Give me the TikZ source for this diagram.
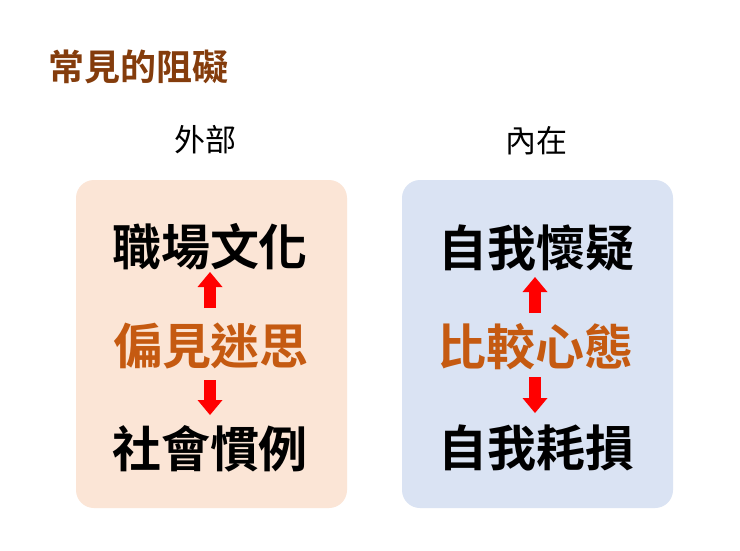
\documentclass[tikz,border=0pt]{standalone}
\usepackage{fontspec}
\setmainfont{Noto Sans CJK TC}[BoldFont={Noto Sans CJK TC Bold}]
\usetikzlibrary{arrows.meta}
\definecolor{titlebrown}{HTML}{843C0C}
\definecolor{midorange}{HTML}{C55A11}
\definecolor{peach}{HTML}{FBE5D6}
\definecolor{paleblue}{HTML}{DAE3F3}
\tikzset{
  panel/.style={rounded corners=18pt, inner sep=0pt, minimum width=271pt, minimum height=328pt},
  maintext/.style={font=\fontsize{49}{49}\selectfont\bfseries, text=black, inner sep=0pt},
  midtext/.style={maintext, text=midorange},
  headtext/.style={font=\fontsize{31}{31}\selectfont, text=black, inner sep=0pt},
  blockarrow/.style={draw=red, line width=12.5pt, -{Triangle[width=25pt,length=15pt,line width=0pt]}},
}
\begin{document}
\begin{tikzpicture}[x=1pt,y=-1pt]
\useasboundingbox (0,0) rectangle (740,550);
\fill[white] (0,0) rectangle (740,550);
% title
\node[font=\fontsize{36}{36}\selectfont\bfseries, text=titlebrown, inner sep=0pt] (title) at (138.5,67) {常見的阻礙};
% headings
\node[headtext] (ext) at (205,140) {外部};
\node[headtext] (int) at (536,141) {內在};
% panels
\node[panel, fill=peach] (lpanel) at (211.5,344) {};
\node[panel, fill=paleblue] (rpanel) at (537.5,344) {};
% left texts
\node[maintext] (l1) at (210,247) {職場文化};
\node[midtext]  (l2) at (211,346) {偏見迷思};
\node[maintext] (l3) at (210,449) {社會慣例};
% right texts
\node[maintext] (r1) at (536,248) {自我懷疑};
\node[midtext]  (r2) at (535,347) {比較心態};
\node[maintext] (r3) at (536,448) {自我耗損};
% arrow ends
\coordinate (la1s) at (210,308);
\coordinate (la1e) at (210,272);
\coordinate (la2s) at (210,380);
\coordinate (la2e) at (210,415);
\coordinate (ra1s) at (535,313);
\coordinate (ra1e) at (535,277);
\coordinate (ra2s) at (535,377);
\coordinate (ra2e) at (535,413);
\draw[blockarrow] (la1s) -- (la1e);
\draw[blockarrow] (la2s) -- (la2e);
\draw[blockarrow] (ra1s) -- (ra1e);
\draw[blockarrow] (ra2s) -- (ra2e);
\end{tikzpicture}
\end{document}
